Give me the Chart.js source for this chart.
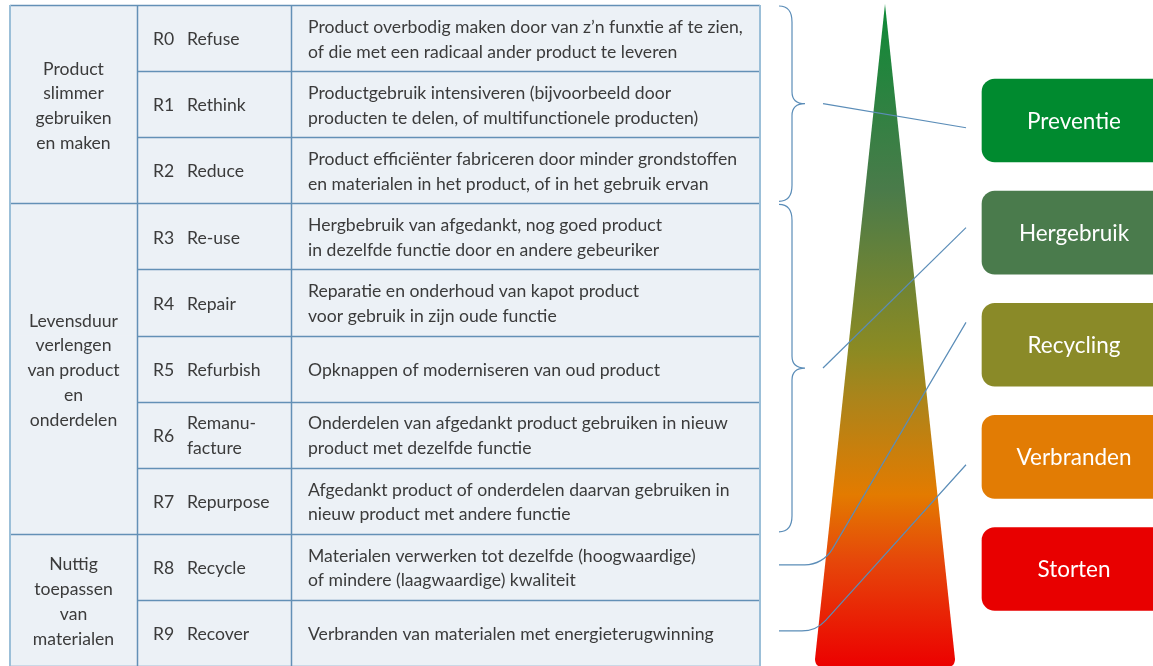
<!DOCTYPE html>
<html>
<head>
<meta charset="utf-8">
<script src="https://cdn.jsdelivr.net/npm/chart.js@4/dist/chart.umd.min.js"></script>
<style>
  html, body { margin: 0; padding: 0; background: #fff; }
  #wrap { width: 1153px; height: 666px; position: relative; }
</style>
</head>
<body>
<div id="wrap"><canvas id="grafico"></canvas></div>
<script>
// R-ladder: codes, names, descriptions
var rCodes = ['R0', 'R1', 'R2', 'R3', 'R4', 'R5', 'R6', 'R7', 'R8', 'R9'];
var rNames = ['Refuse', 'Rethink', 'Reduce', 'Re-use', 'Repair', 'Refurbish',
              'Remanu-\nfacture', 'Repurpose', 'Recycle', 'Recover'];
var rDescriptions = [
    'Product overbodig maken door van z\u2019n funxtie af te zien,\nof die met een radicaal ander product te leveren',
    'Productgebruik intensiveren (bijvoorbeeld door\nproducten te delen, of multifunctionele producten)',
    'Product effici\u00ebnter fabriceren door minder grondstoffen\nen materialen in het product, of in het gebruik ervan',
    'Hergbebruik van afgedankt, nog goed product\nin dezelfde functie door en andere gebeuriker',
    'Reparatie en onderhoud van kapot product\nvoor gebruik in zijn oude functie',
    'Opknappen of moderniseren van oud product',
    'Onderdelen van afgedankt product gebruiken in nieuw\nproduct met dezelfde functie',
    'Afgedankt product of onderdelen daarvan gebruiken in\nnieuw product met andere functie',
    'Materialen verwerken tot dezelfde (hoogwaardige)\nof mindere (laagwaardige) kwaliteit',
    'Verbranden van materialen met energieterugwinning'
];

// groups of rows
var groupLabels = ['Product\nslimmer\ngebruiken\nen maken',
                   'Levensduur\nverlengen\nvan product\nen\nonderdelen',
                   'Nuttig\ntoepassen\nvan\nmaterialen'];
var groupFirst = [0, 3, 8];
var groupLast = [2, 7, 9];

// waste hierarchy levels
var levels = ['Preventie', 'Hergebruik', 'Recycling', 'Verbranden', 'Storten'];
var levelColors = ['#008a2f', '#4a7b4c', '#8a8a28', '#e27c04', '#e80000'];

// links: brace of a group or a single row -> level (dy = offset of the end point in level units)
var links = [
    { group: 0, level: 0, dy: 0.065 },
    { group: 1, level: 1, dy: -0.045 },
    { row: 8, level: 2, dy: -0.2 },
    { row: 9, level: 3, dy: 0.07 }
];

// layout (px along x scale)
var cols = [10, 137, 291, 760];
var boxX = [982, 1166];

var TXT = '17.6px Lato';
var lineColor = '#6390b6';
var outerColor = '#9bbfd8';

var diagramPlugin = {
    id: 'diagram',
    beforeDatasetsDraw: function (chart) {
        var ctx = chart.ctx;
        // driehoek
        var cx = 885, top = 4, bot = 667, half = 70, r = 8;
        var g = ctx.createLinearGradient(0, top, 0, bot);
        g.addColorStop(0, '#0e8a37');
        g.addColorStop(0.28, '#4a7b4a');
        g.addColorStop(0.52, '#8b8a23');
        g.addColorStop(0.6, '#ad841a');
        g.addColorStop(0.74, '#e37b00');
        g.addColorStop(0.84, '#e6470a');
        g.addColorStop(1, '#ec0000');
        ctx.save();
        ctx.beginPath();
        ctx.moveTo(cx, top);
        ctx.lineTo(cx + half, bot - r);
        ctx.quadraticCurveTo(cx + half, bot, cx + half - r, bot);
        ctx.lineTo(cx - half + r, bot);
        ctx.quadraticCurveTo(cx - half, bot, cx - half, bot - r);
        ctx.closePath();
        ctx.fillStyle = g;
        ctx.fill();
        ctx.restore();
    },
    afterDatasetsDraw: function (chart) {
        var ctx = chart.ctx;
        var y = chart.scales.y;
        var y2 = chart.scales.y2;
        var x = chart.scales.x;
        var band = y.getPixelForValue(1) - y.getPixelForValue(0);
        var rowTop = function (i) { return y.getPixelForValue(i) - band / 2; };
        var px = function (v) { return x.getPixelForValue(v); };

        ctx.save();
        // horizontale lijnen
        ctx.strokeStyle = lineColor;
        ctx.lineWidth = 1.5;
        for (var i = 0; i <= rCodes.length; i++) {
            var isGroupEdge = groupFirst.indexOf(i) >= 0 || i === rCodes.length;
            var yy = Math.round(rowTop(i)) + 0.5;
            ctx.beginPath();
            ctx.moveTo(px(isGroupEdge ? cols[0] : cols[1]), yy);
            ctx.lineTo(px(cols[3]), yy);
            ctx.stroke();
        }
        // verticale lijnen
        [cols[1], cols[2]].forEach(function (c) {
            ctx.beginPath();
            ctx.moveTo(px(c) + 0.5, rowTop(0));
            ctx.lineTo(px(c) + 0.5, rowTop(rCodes.length));
            ctx.stroke();
        });
        ctx.strokeStyle = outerColor;
        ctx.lineWidth = 2;
        [cols[0], cols[3]].forEach(function (c) {
            ctx.beginPath();
            ctx.moveTo(px(c), rowTop(0));
            ctx.lineTo(px(c), rowTop(rCodes.length));
            ctx.stroke();
        });

        // teksten
        ctx.fillStyle = '#3b3b3b';
        ctx.font = TXT;
        ctx.textBaseline = 'middle';
        var lh = 24.8;
        var multi = function (txt, x0, yc, align) {
            var lines = txt.split('\n');
            ctx.textAlign = align;
            lines.forEach(function (l, k) {
                ctx.fillText(l, x0, yc + (k - (lines.length - 1) / 2) * lh);
            });
        };
        rCodes.forEach(function (code, i) {
            var yc = y.getPixelForValue(i) + 1.5;
            ctx.textAlign = 'left';
            ctx.fillText(code, px(cols[1]) + 16, yc);
            multi(rNames[i], px(cols[1]) + 50, yc, 'left');
            multi(rDescriptions[i], px(cols[2]) + 17, yc, 'left');
        });
        groupLabels.forEach(function (lab, gi) {
            var yc = (rowTop(groupFirst[gi]) + rowTop(groupLast[gi] + 1)) / 2 + 2;
            multi(lab, (px(cols[0]) + px(cols[1])) / 2, yc, 'center');
        });

        // accolades en verbindingslijnen
        ctx.strokeStyle = '#5b8db8';
        ctx.lineWidth = 1.2;
        var x0 = 779, xv = 792, xt = 805;
        links.forEach(function (lk) {
            var ex = boxX[0] - 16;
            var ey = y2.getPixelForValue(lk.level + lk.dy);
            if (lk.group !== undefined) {
                var yt = rowTop(groupFirst[lk.group]) + 1;
                var yb = rowTop(groupLast[lk.group] + 1) - 2;
                var ym = (yt + yb) / 2;
                ctx.beginPath();
                ctx.moveTo(x0, yt);
                ctx.quadraticCurveTo(xv, yt, xv, yt + 16);
                ctx.lineTo(xv, ym - 12);
                ctx.quadraticCurveTo(xv, ym, xt, ym);
                ctx.quadraticCurveTo(xv, ym, xv, ym + 12);
                ctx.lineTo(xv, yb - 16);
                ctx.quadraticCurveTo(xv, yb, x0, yb);
                ctx.stroke();
                ctx.beginPath();
                ctx.moveTo(823, ym);
                ctx.lineTo(ex, ey);
                ctx.stroke();
            } else {
                var yr = y.getPixelForValue(lk.row) - 2;
                // hoekpunt: waar de schuine lijn de horizontale lijn raakt
                var sx = 836, sy = yr - 22;
                var slope = (ex - sx) / (ey - sy);
                var cxp = sx + (yr - sy) * slope;
                ctx.beginPath();
                ctx.moveTo(x0, yr);
                ctx.arcTo(cxp, yr, ex, ey, 32);
                ctx.lineTo(ex, ey);
                ctx.stroke();
            }
        });

        // labels in de blokken
        ctx.fillStyle = '#ffffff';
        ctx.font = '22.5px Lato';
        ctx.textAlign = 'center';
        levels.forEach(function (lev, i) {
            ctx.fillText(lev, (px(boxX[0]) + px(boxX[1])) / 2, y2.getPixelForValue(i) + 1);
        });
        ctx.restore();
    }
};

var grafico = document.getElementById('grafico').getContext('2d');
var chart = new Chart(grafico, {
    type: 'bar',
    data: {
        labels: rCodes,
        datasets: [
            {
                label: 'rijen',
                data: rCodes.map(function () { return [cols[0], cols[3]]; }),
                backgroundColor: '#ecf1f6',
                borderWidth: 0,
                barPercentage: 1,
                categoryPercentage: 1,
                grouped: false,
                yAxisID: 'y'
            },
            {
                label: 'niveaus',
                data: levels.map(function (l, i) { return { x: boxX, y: i }; }),
                backgroundColor: levelColors,
                borderWidth: 0,
                borderRadius: 13,
                borderSkipped: false,
                barThickness: 83,
                grouped: false,
                yAxisID: 'y2'
            }
        ]
    },
    options: {
        indexAxis: 'y',
        responsive: true,
        maintainAspectRatio: false,
        animation: false,
        events: [],
        layout: { padding: { top: 5, left: 0, right: 0, bottom: 0 } },
        plugins: { legend: { display: false }, tooltip: { enabled: false } },
        scales: {
            x: { type: 'linear', min: 0, max: 1153, display: false },
            y: { type: 'category', display: false, offset: true },
            y2: { type: 'linear', min: -1.03, max: 4.865, reverse: true, offset: false, display: false }
        }
    },
    plugins: [diagramPlugin]
});
</script>
</body>
</html>
